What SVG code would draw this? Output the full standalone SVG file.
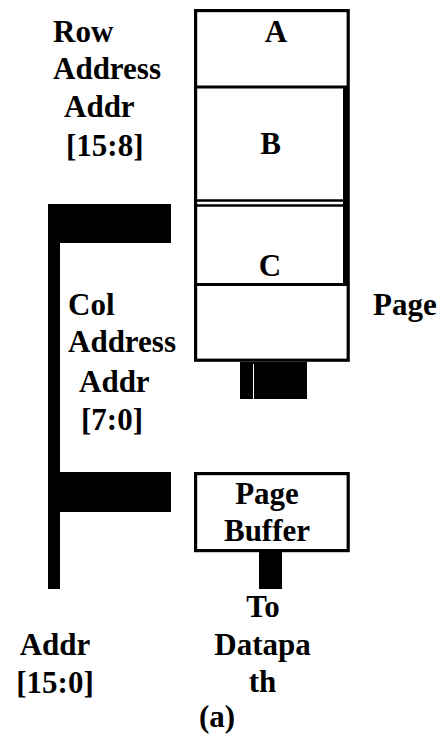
<svg xmlns="http://www.w3.org/2000/svg" width="445" height="736" viewBox="0 0 445 736">
<style>
.t{font-family:"Liberation Serif","Times New Roman",serif;font-weight:bold;font-size:31px;fill:#000}
.m{text-anchor:middle}
.box{fill:#fff;stroke:#000;stroke-width:3.2}
.ln{stroke:#000;stroke-width:3}
.bus{fill:#000}
</style>
<rect width="445" height="736" fill="#fff"/>
<g id="row-label">
<text class="t" x="53" y="42">Row</text>
<text class="t" x="53" y="79">Address</text>
<text class="t" x="64" y="117">Addr</text>
<text class="t" x="66" y="156">[15:8]</text>
</g>
<g id="memory-array">
<rect class="box" x="195.6" y="10.6" width="152.6" height="349.6"/>
<rect x="343" y="87" width="6" height="198" fill="#000"/>
<line class="ln" x1="195" y1="87" x2="349" y2="87"/>
<line x1="195" y1="200.5" x2="345" y2="200.5" stroke="#000" stroke-width="2.5"/>
<line x1="195" y1="205.5" x2="345" y2="205.5" stroke="#000" stroke-width="2.5"/>
<line class="ln" x1="195" y1="284.5" x2="349" y2="284.5"/>
<text class="t m" x="276" y="42">A</text>
<text class="t m" x="270.5" y="154">B</text>
<text class="t m" x="270" y="276">C</text>
</g>
<g id="page-label">
<text class="t" x="373" y="315">Page</text>
</g>
<g id="col-label">
<text class="t" x="68" y="315">Col</text>
<text class="t" x="68" y="352">Address</text>
<text class="t" x="79" y="392">Addr</text>
<text class="t" x="81" y="430">[7:0]</text>
</g>
<g id="page-buffer">
<rect class="box" x="195.6" y="473.6" width="152.6" height="77"/>
<text class="t m" x="267" y="504">Page</text>
<text class="t m" x="267" y="541">Buffer</text>
</g>
<g id="datapath-label">
<text class="t m" x="263" y="617">To</text>
<text class="t m" x="262.5" y="655">Datapa</text>
<text class="t m" x="262.5" y="692">th</text>
</g>
<g id="addr-label">
<text class="t m" x="55" y="655">Addr</text>
<text class="t m" x="55" y="693">[15:0]</text>
</g>
<g id="caption">
<text class="t m" x="217" y="727">(a)</text>
</g>
<g id="connectors">
<rect class="bus" x="48" y="204" width="12" height="385"/>
<rect class="bus" x="48" y="204" width="123" height="39"/>
<rect class="bus" x="48" y="472" width="123" height="40"/>
<rect class="bus" x="240" y="362" width="67" height="37"/>
<rect x="253" y="364" width="1" height="35" fill="#fff"/>
<rect class="bus" x="259" y="552" width="23" height="37"/>
</g>
</svg>
